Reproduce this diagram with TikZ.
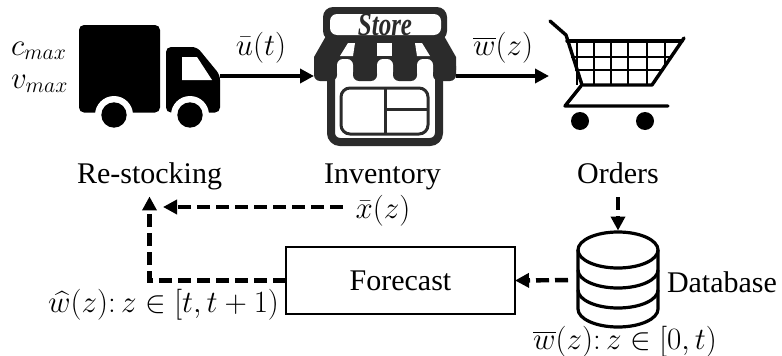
\documentclass[tikz,border=0pt]{standalone}
\usepackage{fix-cm}
\usepackage{amsmath}
\usepackage{graphicx}
\usepackage{fontspec}
\setmainfont{Liberation Serif}
\usetikzlibrary{arrows.meta}
\definecolor{stdark}{HTML}{2B2B2B}
\tikzset{
  box/.style={inner sep=0pt,outer sep=0pt},
  lab/.style={inner sep=0pt,outer sep=0pt,font=\fontsize{30}{32}\selectfont},
  mlab/.style={inner sep=0pt,outer sep=0pt,font=\fontsize{31}{33}\selectfont},
  flow/.style={line width=4.4pt,-{Triangle[length=14pt,width=14pt]}},
  dashflow/.style={flow,dash pattern=on 13pt off 6pt},
  grid/.style={line width=2.2pt,black},
  cartline/.style={line width=3.4pt,black,line cap=round,line join=round},
  dbline/.style={line width=3.2pt,black},
  win/.style={line width=3pt,stdark}
}
\begin{document}
\begin{tikzpicture}[x=1pt,y=-1pt]
\useasboundingbox (0,0) rectangle (782,356);
% anchors of icons
\node[box,minimum width=141pt,minimum height=100pt] (truck) at (149.5,76) {};
\node[box,minimum width=142pt,minimum height=100pt] (store) at (385,76) {};
\node[box,minimum width=135pt,minimum height=100pt] (cart) at (616.5,76) {};
\node[box,minimum width=80pt,minimum height=95pt] (db) at (618,280) {};
% truck
\fill[black,rounded corners=5pt] (79,25) rectangle (160,112.5);
\fill[black,rounded corners=5pt] (166,47) -- (197,47) -- (220,75) -- (220,112.5) -- (166,112.5) -- cycle;
\fill[white] (182,57) -- (197,57) -- (212,80) -- (182,80) -- cycle;
\fill[white] (114,115) circle (19);
\fill[white] (190,115) circle (19);
\fill[white] (70,113) rectangle (230,130);
\fill[black] (114,115) circle (12.7);
\fill[black] (190,115) circle (12.7);
% store
\draw[line width=8pt,stdark,rounded corners=9pt] (331,70) -- (331,142) -- (439,142) -- (439,70);
\draw[win,rounded corners=9pt] (341,88) rectangle (428,134);
\draw[win] (385,88) -- (385,134) (385,109) -- (428,109);
\fill[stdark] (326,36) -- (444,36) -- (456,57) -- (456,70) -- (314,70) -- (314,57) -- cycle;
\foreach \a/\b in {314/337,353/377,393/417,433/456}{
  \fill[stdark,rounded corners=6pt] (\a,60) -- (\a,81) -- (\b,81) -- (\b,60) -- cycle;
}
\fill[white] (348,43) -- (355,43) -- (353,56) -- (340,56) -- cycle;
\fill[white] (377,43) rectangle (392,56);
\fill[white] (415,43) -- (422,43) -- (430,56) -- (417,56) -- cycle;
\foreach \a/\b in {337/353,377/393,417/433}{
  \fill[white,rounded corners=6pt] (\a,59) -- (\a,78) -- (\b,78) -- (\b,59) -- cycle;
}
\fill[stdark,rounded corners=10pt] (323,7) rectangle (447,41);
\fill[white,rounded corners=7pt] (330,14) rectangle (441,35);
\node[box,text=stdark,font=\fontsize{25}{26}\selectfont\bfseries\itshape] (storename) at (385,25) {\scalebox{1}[1.3]{Store}};
% cart
\foreach \x/\yy in {577/85,594/85,611/85,628/85,647/85,665/66}{
  \draw[grid] (\x,41) -- (\x,\yy);
}
\draw[grid] (571,57) -- (671,57) (575,70) -- (662,70);
\draw[cartline] (550,21) -- (566,35) -- (582,85) -- (652,85) -- (684,38);
\draw[cartline] (567,41) -- (682,41);
\draw[cartline] (581,86) -- (565,106) -- (668,106);
\fill[black] (580,121) circle (9);
\fill[black] (645,121) circle (9);
% database
\draw[dbline] (618,250) ellipse [x radius=40,y radius=18];
\draw[dbline] (578,250) -- (578,309) .. controls (578,319) and (596,327) .. (618,327) .. controls (640,327) and (658,319) .. (658,309) -- (658,250);
\draw[dbline] (578,270) .. controls (578,280) and (596,288) .. (618,288) .. controls (640,288) and (658,280) .. (658,270);
\draw[dbline] (578,290) .. controls (578,300) and (596,308) .. (618,308) .. controls (640,308) and (658,300) .. (658,290);
% forecast
\node[box,draw=black,line width=1.2pt,minimum width=229pt,minimum height=67pt,lab] (forecast) at (400.5,280.5) {\raisebox{-1.5pt}{Forecast}\hspace{31pt}};
% labels
\node[lab,anchor=base] (restock) at (149.5,183) {Re-stocking};
\node[lab,anchor=base] (inv) at (382.5,183) {Inventory};
\node[lab,anchor=base] (orders) at (618,183) {Orders};
\node[lab,anchor=base west] (dbl) at (667,292) {Database};
\node[mlab,anchor=base west] (cmax) at (11,55) {$c_{max}$};
\node[mlab,anchor=base west] (vmax) at (11,88) {$v_{max}$};
\node[mlab,anchor=base] (ubar) at (261,55) {$\bar{u}(t)$};
\node[mlab,anchor=base] (wbar) at (503,55) {$\overline{w}(z)$};
\node[mlab,anchor=base] (xbar) at (383,218) {$\bar{x}(z)$};
\node[mlab,anchor=base east] (what) at (279,312) {$\widehat{w}(z){:}\,z\in[t,t+1)$};
\node[mlab,anchor=base] (wrange) at (625,349) {$\overline{w}(z){:}\,z\in[0,t)$};
\coordinate (turn) at (150,207);
\coordinate (xstart) at (356,207);
% connectors
\draw[flow] (truck.east) -- (store.west);
\draw[flow] (store.east) -- (cart.west);
\draw[dashflow,shorten <=14pt,shorten >=2pt] (orders.south) -- (db.north);
\draw[dashflow,shorten <=10pt] (db.west) -- (forecast.east);
\draw[dashflow,shorten >=7pt] (forecast.west) -| (restock.south);
\draw[dashflow,shorten <=13pt,shorten >=13pt] (xstart) -- (turn);
\end{tikzpicture}
\end{document}
